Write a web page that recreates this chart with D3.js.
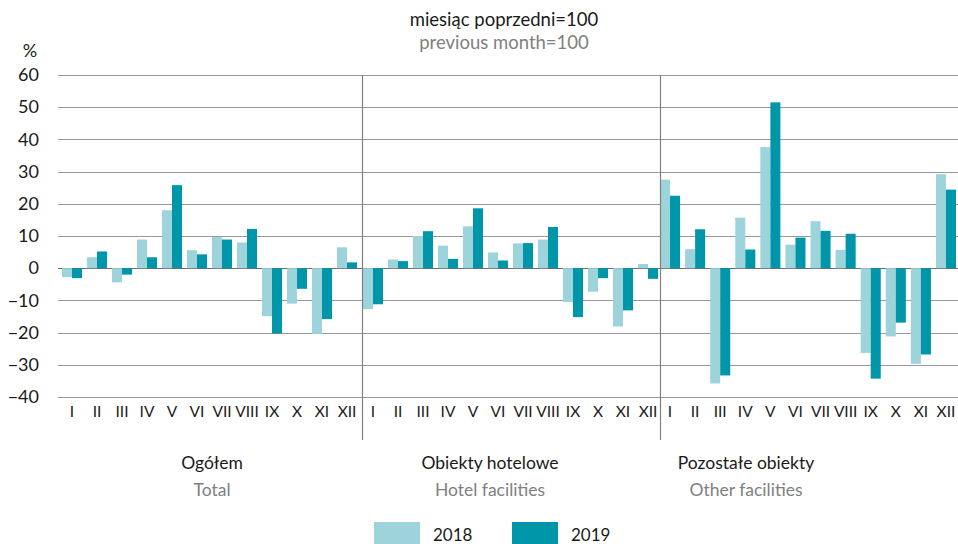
<!DOCTYPE html>
<html>
<head>
<meta charset="utf-8">
<script src="https://cdn.jsdelivr.net/npm/d3@7"></script>
<style>
  body { margin: 0; background: #fff; }
  svg { display: block; font-family: Lato, "Noto Sans", sans-serif; }
</style>
</head>
<body>
<div id="chart"></div>
<script>
// months as roman numerals
const months = ["I", "II", "III", "IV", "V", "VI", "VII", "VIII", "IX", "X", "XI", "XII"];
const years = ["2018", "2019"];
const yTicks = [60, 50, 40, 30, 20, 10, 0, -10, -20, -30, -40];

const panelNamesPl = ["Ogółem", "Obiekty hotelowe", "Pozostałe obiekty"];
const panelNamesEn = ["Total", "Hotel facilities", "Other facilities"];

// values (previous month = 100, change in %)
const total2018 = [-2.8, 3.4, -4.4, 8.9, 18.0, 5.6, 9.7, 8.0, -14.9, -11.0, -20.4, 6.5];
const total2019 = [-3.1, 5.2, -2.0, 3.4, 25.8, 4.3, 8.9, 12.2, -20.3, -6.4, -15.8, 1.8];
const hotel2018 = [-12.7, 2.7, 10.0, 7.0, 13.0, 4.9, 7.7, 8.9, -10.5, -7.3, -18.1, 1.3];
const hotel2019 = [-11.2, 2.2, 11.5, 2.9, 18.6, 2.4, 7.8, 12.8, -15.2, -3.1, -13.1, -3.3];
const other2018 = [27.5, 5.9, -35.8, 15.7, 37.6, 7.3, 14.6, 5.7, -26.3, -21.2, -29.7, 29.2];
const other2019 = [22.5, 12.1, -33.3, 5.8, 51.5, 9.5, 11.6, 10.7, -34.3, -16.9, -26.8, 24.4];

const panelData = [
  [total2018, total2019],
  [hotel2018, hotel2019],
  [other2018, other2019]
];

const colors = { "2018": "#9dd4dc", "2019": "#0096a9" };

const W = 958, H = 544;
const plotTop = 75, plotBottom = 397;
const gridLeft = 58, gridRight = 958;
const panelRanges = [[62, 357], [363, 658], [660, 956]];
const separators = [362, 660];
const panelLabelX = [212, 490, 746];

const svg = d3.select("#chart").append("svg")
  .attr("width", W)
  .attr("height", H);

const y = d3.scaleLinear().domain([-40, 60]).range([plotBottom, plotTop]);

// title
svg.append("text")
  .attr("x", 504).attr("y", 26)
  .attr("text-anchor", "middle")
  .attr("font-size", 18.5).attr("fill", "#1a1a1a")
  .text("miesiąc poprzedni=100");
svg.append("text")
  .attr("x", 504).attr("y", 49)
  .attr("text-anchor", "middle")
  .attr("font-size", 18.5).attr("fill", "#808080")
  .text("previous month=100");

svg.append("text")
  .attr("x", 30).attr("y", 57)
  .attr("text-anchor", "middle")
  .attr("font-size", 18).attr("fill", "#1a1a1a")
  .text("%");

// grid + y labels
const yAxis = d3.axisLeft(y).tickValues(yTicks).tickSize(0).tickPadding(0);
const gy = svg.append("g")
  .attr("transform", "translate(39,0)")
  .call(yAxis);
gy.select(".domain").remove();
gy.selectAll("text")
  .attr("font-size", 18)
  .attr("fill", "#1a1a1a")
  .attr("font-family", "Lato, 'Noto Sans', sans-serif");

svg.append("g")
  .selectAll("line")
  .data(yTicks)
  .enter()
  .append("line")
  .attr("x1", gridLeft).attr("x2", gridRight)
  .attr("y1", d => Math.round(y(d)) + 0.5)
  .attr("y2", d => Math.round(y(d)) + 0.5)
  .attr("stroke", d => d === 0 ? "#6e6e6e" : "#9a9a9a")
  .attr("stroke-width", 1);

// panels
panelData.forEach((series, p) => {
  const x = d3.scaleBand()
    .domain(months)
    .range(panelRanges[p])
    .paddingInner(0.2)
    .paddingOuter(0);
  const xYear = d3.scaleBand()
    .domain(years)
    .range([0, x.bandwidth()]);

  const g = svg.append("g");

  years.forEach((yr, k) => {
    g.append("g")
      .selectAll("rect")
      .data(series[k])
      .enter()
      .append("rect")
      .attr("x", (d, i) => x(months[i]) + xYear(yr))
      .attr("y", d => y(Math.max(0, d)))
      .attr("width", xYear.bandwidth())
      .attr("height", d => Math.abs(y(d) - y(0)))
      .attr("fill", colors[yr]);
  });

  const xAxis = d3.axisBottom(x).tickSize(0).tickPadding(0);
  const gx = g.append("g")
    .attr("transform", "translate(0,405)")
    .call(xAxis);
  gx.select(".domain").remove();
  gx.selectAll("text")
    .attr("font-size", 15.5)
    .attr("fill", "#1a1a1a")
    .attr("dy", "0.75em")
    .attr("font-family", "Lato, 'Noto Sans', sans-serif");

  g.append("text")
    .attr("x", panelLabelX[p]).attr("y", 469)
    .attr("text-anchor", "middle")
    .attr("font-size", 17.5).attr("fill", "#1a1a1a")
    .text(panelNamesPl[p]);
  g.append("text")
    .attr("x", panelLabelX[p]).attr("y", 496)
    .attr("text-anchor", "middle")
    .attr("font-size", 17.5).attr("fill", "#808080")
    .text(panelNamesEn[p]);
});

// panel separators
svg.append("g")
  .selectAll("line")
  .data(separators)
  .enter()
  .append("line")
  .attr("x1", d => d + 0.5).attr("x2", d => d + 0.5)
  .attr("y1", plotTop).attr("y2", 440)
  .attr("stroke", "#808080")
  .attr("stroke-width", 1.2);

// legend
const legendX = [374, 512];
const legend = svg.append("g")
  .selectAll("g")
  .data(years)
  .enter()
  .append("g")
  .attr("transform", (d, i) => `translate(${legendX[i]},522)`);
legend.append("rect")
  .attr("width", 46).attr("height", 22)
  .attr("fill", d => colors[d]);
legend.append("text")
  .attr("x", 59).attr("y", 19)
  .attr("font-size", 17).attr("fill", "#1a1a1a")
  .text(d => d);
</script>
</body>
</html>
